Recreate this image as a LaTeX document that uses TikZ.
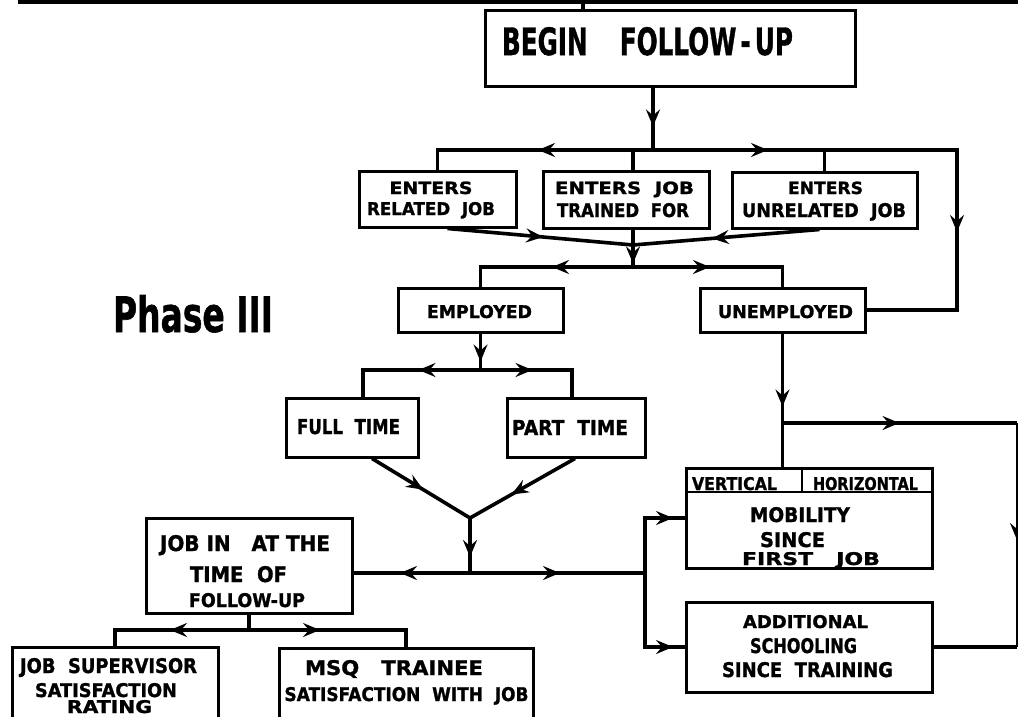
\documentclass[tikz,border=0pt]{standalone}
\usepackage{fontspec}
\usepackage{graphicx}
\setmainfont{DejaVu Sans}[BoldFeatures={FakeBold=1.3}]
\usetikzlibrary{arrows.meta,decorations.markings,calc}
\newcommand{\ft}[3]{\resizebox{#1pt}{#2pt}{\bfseries #3}}
\begin{document}
\begin{tikzpicture}[x=1pt,y=-1pt,
  box/.style={draw, line width=3pt, inner sep=0pt, rectangle},
  txt/.style={inner sep=0pt, anchor=base},
  conn/.style={line width=3.6pt},
  thinconn/.style={line width=2pt},
  tip/.style={postaction={decorate, decoration={markings,
     mark=at position #1 with {\arrow{Stealth[length=17pt,width=14pt,inset=6pt]}}}}},
]
\useasboundingbox (0,0) rectangle (1018,716);
\clip (0,0) rectangle (1018,716);

% boxes
\node[box, minimum width=370pt, minimum height=76pt] (begin) at (670,48) {};
\node[box, minimum width=157pt, minimum height=56pt] (rel) at (437.5,199) {};
\node[box, minimum width=166pt, minimum height=57pt] (trn) at (626,199.5) {};
\node[box, minimum width=185pt, minimum height=56pt] (unr) at (824.5,200) {};
\node[box, minimum width=165pt, minimum height=44pt] (emp) at (480.5,310) {};
\node[box, minimum width=165pt, minimum height=44pt] (unemp) at (782.5,310) {};
\node[box, minimum width=132pt, minimum height=59pt] (full) at (352,427.5) {};
\node[box, minimum width=138pt, minimum height=59pt] (part) at (576,427.5) {};
\node[box, minimum width=206pt, minimum height=95pt] (jobin) at (249,565.5) {};
\node[box, minimum width=206pt, minimum height=86pt] (sup) at (115,690) {};
\node[box, minimum width=254pt, minimum height=84pt] (msq) at (406,690) {};
\node[box, minimum width=246pt, minimum height=100pt] (mob) at (809,518) {};
\node[box, minimum width=246pt, minimum height=90pt] (add) at (809,647) {};

% mobility sub-row
\draw[line width=2pt] ($(mob.north west)+(0,25)$) -- ($(mob.north east)+(0,25)$);
\draw[line width=2pt] ($(mob.north west)+(117,0)$) -- ($(mob.north west)+(117,25)$);

% texts
\node[txt] (tbegin) at (647.5,55) {\ft{291}{28}{BEGIN\hspace{1.3em}FOLLOW\,-\,UP}};
\node[txt] (trel1) at (431,194) {\ft{83}{12.5}{ENTERS}};
\node[txt] (trel2) at (431,215) {\ft{128}{13}{RELATED\ \ JOB}};
\node[txt] (ttrn1) at (624.5,194) {\ft{139}{12.5}{ENTERS\ \ JOB}};
\node[txt] (ttrn2) at (623,217) {\ft{132}{14}{TRAINED\ \ FOR}};
\node[txt] (tunr1) at (825.5,194) {\ft{75}{12.5}{ENTERS}};
\node[txt] (tunr2) at (824,217) {\ft{164}{14}{UNRELATED\ \ JOB}};
\node[txt] (temp) at (479.5,318) {\ft{105}{13}{EMPLOYED}};
\node[txt] (tunemp) at (785.5,318) {\ft{135}{13}{UNEMPLOYED}};
\node[txt] (phase) at (193,332) {\ft{160}{37}{Phase III}};
\node[txt] (tfull) at (348.5,434) {\ft{103}{15}{FULL\ \ TIME}};
\node[txt] (tpart) at (570,435) {\ft{116}{15}{PART\ \ TIME}};
\node[txt] (tjob1) at (245,551) {\ft{170}{16}{JOB IN\ \ \ AT THE}};
\node[txt] (tjob2) at (238.5,582) {\ft{97}{16}{TIME\ \ OF}};
\node[txt] (tjob3) at (247,607) {\ft{116}{14}{FOLLOW-UP}};
\node[txt] (tsup1) at (108.5,673) {\ft{177}{15}{JOB\ \ SUPERVISOR}};
\node[txt] (tsup2) at (106,697) {\ft{142}{14}{SATISFACTION}};
\node[txt] (tsup3) at (109.5,713) {\ft{85}{13}{RATING}};
\node[txt] (tmsq1) at (394,675) {\ft{178}{15}{MSQ\ \ \ TRAINEE}};
\node[txt] (tmsq2) at (406.5,701) {\ft{244}{14}{SATISFACTION\ \ WITH\ \ JOB}};
\node[txt] (tvert) at (734.5,490) {\ft{85}{13}{VERTICAL}};
\node[txt] (thor) at (865.5,490) {\ft{105}{13}{HORIZONTAL}};
\node[txt] (tmob1) at (800,522) {\ft{100}{15}{MOBILITY}};
\node[txt] (tmob2) at (792.5,547) {\ft{65}{15}{SINCE}};
\node[txt] (tmob3) at (811,565) {\ft{138}{13}{FIRST\ \ \ JOB}};
\node[txt] (tadd1) at (805.5,628) {\ft{125}{13}{ADDITIONAL}};
\node[txt] (tadd2) at (803.5,653) {\ft{107}{15}{SCHOOLING}};
\node[txt] (tadd3) at (807.5,677) {\ft{171}{15}{SINCE\ \ TRAINING}};

% junctions
\coordinate (tl) at (18,2);
\coordinate (tr) at (1018,2);
\coordinate (tk) at (583,2);
\coordinate (j1) at (653,150);
\coordinate (jr) at (957,150);
\coordinate (jc) at (633,245);
\coordinate (j2) at (633,267);
\coordinate (j3) at (480.5,370);
\coordinate (jv) at (470,518);
\coordinate (j4) at (470,573);
\coordinate (j5) at (645,573);
\coordinate (j6) at (249,630);
\coordinate (j7) at (782.5,423);
\coordinate (jr2) at (1017,423);

% connectors
\draw[line width=4pt] (tl) -- (tr);
\draw[conn] (tk) -- (tk |- begin.north);
\draw[conn, tip=39pt] (j1 |- begin.south) -- (j1);
\draw[conn, tip=115pt] (j1) -- (rel.north |- j1) -- (rel.north);
\draw[conn] (jc |- j1) -- (jc |- trn.north);
\draw[conn, tip=115pt, tip=386pt] (j1) -- (jr) -- (jr |- unemp.east) -- (unemp.east);
\draw[conn] (unr.north |- j1) -- (unr.north);

\draw[conn, tip=96pt] ([xshift=10pt]rel.south) -- (jc);
\draw[conn, tip=108pt] ([xshift=-5pt]unr.south) -- (jc);
\draw[conn, tip=34pt] (jc |- trn.south) -- (j2);

\draw[conn, tip=81pt] (j2) -- (emp.north |- j2) -- (emp.north);
\draw[conn, tip=77pt] (j2) -- (unemp.north |- j2) -- (unemp.north);

\draw[conn, tip=28pt] (emp.south) -- (j3);
\draw[conn, tip=62pt] (j3) -- ([xshift=11pt]full.north |- j3) -- ([xshift=11pt]full.north);
\draw[conn, tip=52pt] (j3) -- ([xshift=-4pt]part.north |- j3) -- ([xshift=-4pt]part.north);

\draw[conn, tip=60pt] ([xshift=20pt]full.south) -- (jv);
\draw[conn, tip=73pt] ([xshift=-1pt]part.south) -- (jv);
\draw[conn, tip=39pt] (jv) -- (j4);

\draw[conn, tip=70pt] (j4) -- (jobin.east |- j4);
\draw[conn, tip=90pt, tip=258pt] (j4) -- (j5) -- (j5 |- mob.west) -- (mob.west);
\draw[conn, tip=102pt] (j5) -- (j5 |- add.west) -- (add.west);

\draw[conn, tip=16pt] (jobin.south) -- (j6);
\draw[conn, tip=79pt] (j6) -- (sup.north |- j6) -- (sup.north);
\draw[conn, tip=71pt] (j6) -- (msq.north |- j6) -- (msq.north);

\draw[conn, tip=73pt] (unemp.south) -- (j7) -- (j7 |- mob.north);
\draw[conn, tip=117pt] (j7) -- (jr2);
\draw[thinconn, tip=117pt] (jr2) -- (jr2 |- add.east);
\draw[conn] (jr2 |- add.east) -- (add.east);
\end{tikzpicture}
\end{document}
